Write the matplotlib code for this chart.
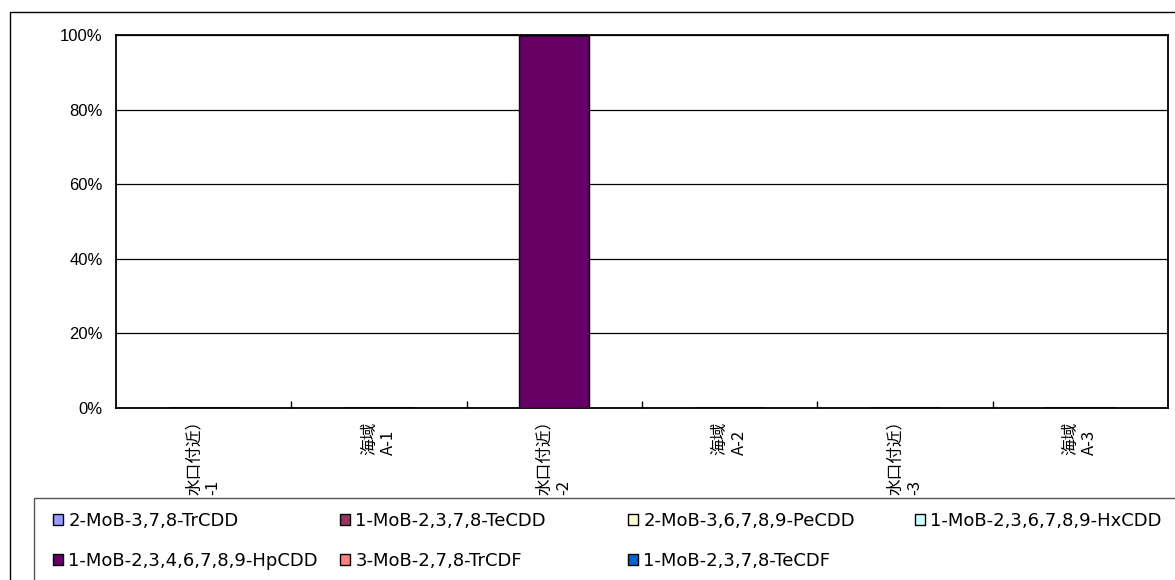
import numpy as np
import matplotlib.pyplot as plt
from matplotlib.patches import Patch, Rectangle

plt.rcParams['font.family'] = ['Noto Sans CJK JP', 'DejaVu Sans']

# カテゴリ（ラベルは元図で見えている部分）
categories = ["水口付近）\n-1", "海域\nA-1", "水口付近）\n-2", "海域\nA-2", "水口付近）\n-3", "海域\nA-3"]

# 各異性体の構成比 (%)
trcdd_2_378 = [0, 0, 0, 0, 0, 0]
tecdd_1_2378 = [0, 0, 0, 0, 0, 0]
pecdd_2_36789 = [0, 0, 0, 0, 0, 0]
hxcdd_1_236789 = [0, 0, 0, 0, 0, 0]
hpcdd_1_2346789 = [0, 0, 100, 0, 0, 0]
trcdf_3_278 = [0, 0, 0, 0, 0, 0]
tecdf_1_2378 = [0, 0, 0, 0, 0, 0]

series_names = [
    "2-MoB-3,7,8-TrCDD",
    "1-MoB-2,3,7,8-TeCDD",
    "2-MoB-3,6,7,8,9-PeCDD",
    "1-MoB-2,3,6,7,8,9-HxCDD",
    "1-MoB-2,3,4,6,7,8,9-HpCDD",
    "3-MoB-2,7,8-TrCDF",
    "1-MoB-2,3,7,8-TeCDF",
]
series_colors = ["#9999FF", "#993366", "#FFFFCC", "#CCFFFF", "#660066", "#FF8080", "#0066CC"]
series_values = [trcdd_2_378, tecdd_1_2378, pecdd_2_36789, hxcdd_1_236789,
                 hpcdd_1_2346789, trcdf_3_278, tecdf_1_2378]

W, H = 1175, 580
fig = plt.figure(figsize=(W / 100, H / 100), dpi=100)
ax = fig.add_axes([116 / W, 1 - 408 / H, (1168 - 116) / W, (408 - 35) / H])

x = np.arange(len(categories))
bottom = np.zeros(len(categories))
for name, color, vals in zip(series_names, series_colors, series_values):
    vals = np.array(vals, dtype=float)
    ax.bar(x, vals, width=0.4, bottom=bottom, color=color, edgecolor="black",
           linewidth=1, label=name, zorder=3)
    bottom += vals

ax.set_xlim(-0.5, len(categories) - 0.5)
ax.set_ylim(0, 100)
ax.set_yticks(np.arange(0, 101, 20))
ax.set_yticklabels([f"{v}%" for v in range(0, 101, 20)], family="Liberation Sans", fontsize=12)
ax.tick_params(axis="y", length=0, pad=9.5)
ax.yaxis.grid(True, color="black", linewidth=0.9)
ax.set_axisbelow(True)

# 区切りの目盛り（内向き）
ax.set_xticks(np.arange(0.5, len(categories) - 0.5, 1))
ax.set_xticklabels([])
ax.tick_params(axis="x", length=5, direction="in", width=1, color="black")

# カテゴリラベル：長いラベルは下端が凡例枠に接する位置
for i, lab in enumerate(categories):
    off = 4 if "付近" in lab else 14
    ax.annotate(lab, xy=(i, 0), xycoords=("data", "axes fraction"),
                xytext=(0, -off), textcoords="offset pixels",
                rotation=90, fontsize=12, ha="center", va="top",
                multialignment="left", linespacing=1.15, annotation_clip=False)

for sp in ax.spines.values():
    sp.set_color("black")
    sp.set_linewidth(1.3)

# 外枠（チャート領域）
fig.add_artist(Rectangle((10 / W, -0.1), 1.2, 1 - 12 / H + 0.1, transform=fig.transFigure,
                         fill=False, edgecolor="black", linewidth=1, zorder=1))

# 凡例枠（ラベル下部を隠す）
fig.add_artist(Rectangle((34 / W, -0.1), 1.2, 1 - 498 / H + 0.1, transform=fig.transFigure,
                         facecolor="white", edgecolor="#555555", linewidth=1, zorder=5))

handles = [Patch(facecolor=c, edgecolor="black", linewidth=1) for c in series_colors]
col_x = [53, 340, 628, 915]
for j, cx in enumerate(col_x):
    leg = fig.legend(handles[j::4], series_names[j::4], loc="upper left",
                     bbox_to_anchor=(cx / W, 1 - 512 / H), frameon=False,
                     prop={"family": "DejaVu Sans", "size": 13}, borderpad=0,
                     borderaxespad=0, handlelength=0.55, handleheight=0.55,
                     handletextpad=0.3, labelspacing=1.22)
    leg.set_zorder(6)

fig.savefig("out.png", dpi=100)
